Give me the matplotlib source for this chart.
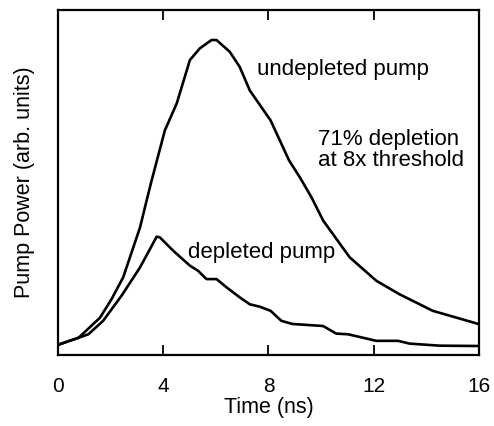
import matplotlib
matplotlib.use("Agg")
import matplotlib.pyplot as plt

t_undepleted = [0.0, 0.8, 1.61, 2.05, 2.49, 3.13, 3.38, 3.57, 4.07, 4.52, 5.02, 5.40, 5.84, 6.03,
                6.53, 6.91, 7.29, 8.08, 8.78, 9.19, 9.63, 10.07, 11.08, 12.09, 12.97, 14.23, 16.0]
p_undepleted = [2.9, 5.0, 10.8, 16.2, 22.5, 37.0, 44.8, 50.6, 65.1, 72.9, 85.5, 88.9, 91.3, 91.3,
                87.9, 83.5, 76.7, 68.0, 56.4, 51.5, 45.7, 39.0, 28.3, 21.5, 17.6, 12.8, 8.9]

t_depleted = [0.0, 0.8, 1.17, 1.73, 2.43, 3.13, 3.76, 3.88, 4.39, 5.02, 5.33, 5.65, 6.03, 6.41,
              6.91, 7.29, 7.67, 8.08, 8.49, 8.9, 10.07, 10.57, 11.02, 12.09, 12.91, 13.35, 14.49, 16.0]
p_depleted = [2.9, 5.0, 6.0, 9.9, 17.2, 25.4, 34.3, 34.1, 30.2, 25.9, 24.4, 22.0, 22.0, 19.6,
              16.7, 14.7, 14.0, 12.8, 9.9, 9.0, 8.4, 6.2, 6.0, 4.1, 4.1, 3.3, 2.7, 2.6]

x_ticks = [0, 4, 8, 12, 16]

plt.rcParams['font.family'] = ['Liberation Sans', 'DejaVu Sans']

fig = plt.figure(figsize=(4.94, 4.26), dpi=100)
ax = fig.add_axes([0.1164, 0.1667, 0.8542, 0.8098])

ax.plot(t_undepleted, p_undepleted, color='black', lw=1.9, solid_joinstyle='round')
ax.plot(t_depleted, p_depleted, color='black', lw=1.9, solid_joinstyle='round')

ax.set_xlim(0, 16)
ax.set_ylim(0, 100)
ax.set_xticks(x_ticks)
ax.set_xticklabels([str(v) for v in x_ticks])
ax.set_yticks([])
ax.tick_params(axis='x', direction='in', length=7, width=1.3, top=True, labelsize=15, pad=15.5)
for s in ax.spines.values():
    s.set_linewidth(1.6)

ax.set_xlabel('Time (ns)', fontsize=15.5, labelpad=1)
ax.set_ylabel('Pump Power (arb. units)', fontsize=15.5, labelpad=16)

ax.text(7.55, 82.8, 'undepleted pump', fontsize=16, va='center', ha='left')
ax.text(9.88, 59.4, '71% depletion\nat 8x threshold', fontsize=16, va='center', ha='left',
        linespacing=0.95)
ax.text(4.95, 29.6, 'depleted pump', fontsize=16, va='center', ha='left')

fig.savefig('out.png', dpi=100)
